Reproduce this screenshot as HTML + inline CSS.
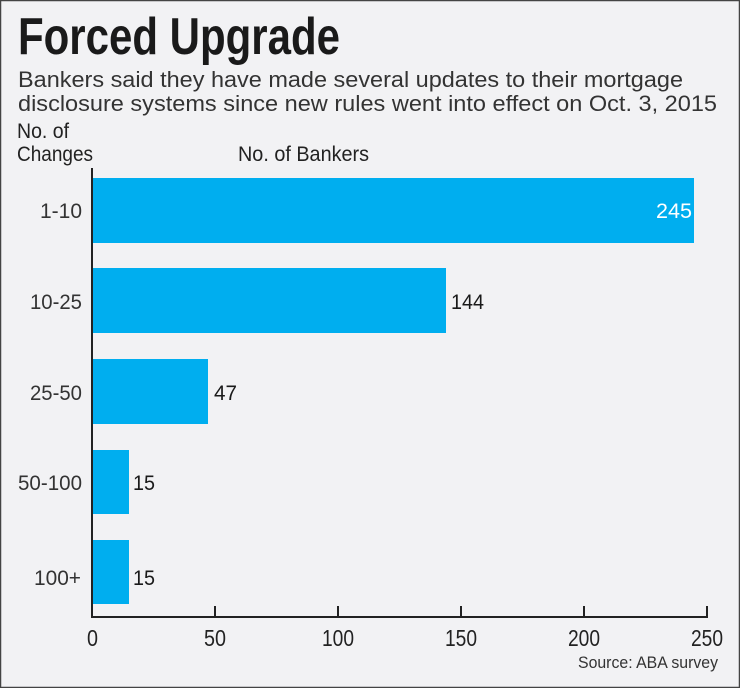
<!DOCTYPE html>
<html><head><meta charset="utf-8"><style>
html,body{margin:0;padding:0;background:#f2f2f4;}
svg{display:block;}
text{font-family:"Liberation Sans Narrow","Liberation Sans",sans-serif;}
.s{font-family:"Liberation Sans",sans-serif;}
</style></head><body>
<svg width="740" height="688" viewBox="0 0 740 688" xmlns="http://www.w3.org/2000/svg">
<rect x="0.5" y="0.5" width="739" height="687" fill="#f2f2f4" stroke="#444" stroke-width="1.5"/>
<text x="18" y="54" font-size="52" font-weight="bold" fill="#1a1a1a" textLength="322" lengthAdjust="spacingAndGlyphs">Forced Upgrade</text>
<text class="s" x="18" y="87" font-size="22" fill="#333" textLength="665" lengthAdjust="spacingAndGlyphs">Bankers said they have made several updates to their mortgage</text>
<text class="s" x="18" y="111" font-size="22" fill="#333" textLength="699" lengthAdjust="spacingAndGlyphs">disclosure systems since new rules went into effect on Oct. 3, 2015</text>
<text x="17" y="138" font-size="21" fill="#222" textLength="52" lengthAdjust="spacingAndGlyphs">No. of</text>
<text x="17" y="161" font-size="21" fill="#222" textLength="76" lengthAdjust="spacingAndGlyphs">Changes</text>
<text x="238" y="161" font-size="21" fill="#222" textLength="131" lengthAdjust="spacingAndGlyphs">No. of Bankers</text>
<g fill="#00aeef">
<rect x="92" y="178" width="602" height="65"/>
<rect x="92" y="268" width="354" height="65"/>
<rect x="92" y="359" width="116" height="65"/>
<rect x="92" y="450" width="37" height="64"/>
<rect x="92" y="540" width="37" height="64"/>
</g>
<g font-size="21" fill="#333">
<text x="40" y="218" textLength="42" lengthAdjust="spacingAndGlyphs">1-10</text>
<text x="30" y="309" textLength="52" lengthAdjust="spacingAndGlyphs">10-25</text>
<text x="30" y="400" textLength="52" lengthAdjust="spacingAndGlyphs">25-50</text>
<text x="18" y="490" textLength="64" lengthAdjust="spacingAndGlyphs">50-100</text>
<text x="34" y="585" textLength="47" lengthAdjust="spacingAndGlyphs">100+</text>
</g>
<g font-size="21" fill="#1a1a1a">
<text x="656" y="218" fill="#fff" textLength="36" lengthAdjust="spacingAndGlyphs">245</text>
<text x="451" y="309" textLength="33" lengthAdjust="spacingAndGlyphs">144</text>
<text x="214" y="400" textLength="23" lengthAdjust="spacingAndGlyphs">47</text>
<text x="133" y="490" textLength="22" lengthAdjust="spacingAndGlyphs">15</text>
<text x="133" y="585" textLength="22" lengthAdjust="spacingAndGlyphs">15</text>
</g>
<g stroke="#222" stroke-width="2">
<line x1="92" y1="168" x2="92" y2="618"/>
<line x1="91" y1="617" x2="708" y2="617"/>
<line x1="215" y1="606" x2="215" y2="617"/>
<line x1="338" y1="606" x2="338" y2="617"/>
<line x1="461" y1="606" x2="461" y2="617"/>
<line x1="584" y1="606" x2="584" y2="617"/>
<line x1="707" y1="606" x2="707" y2="617"/>
</g>
<g font-size="23" fill="#222">
<text x="87" y="646" textLength="11" lengthAdjust="spacingAndGlyphs">0</text>
<text x="204" y="646" textLength="22" lengthAdjust="spacingAndGlyphs">50</text>
<text x="322" y="646" textLength="32" lengthAdjust="spacingAndGlyphs">100</text>
<text x="445" y="646" textLength="32" lengthAdjust="spacingAndGlyphs">150</text>
<text x="568" y="646" textLength="32" lengthAdjust="spacingAndGlyphs">200</text>
<text x="691" y="646" textLength="32" lengthAdjust="spacingAndGlyphs">250</text>
</g>
<text x="578" y="668" font-size="17" fill="#333" textLength="140" lengthAdjust="spacingAndGlyphs">Source: ABA survey</text>
</svg>
</body></html>
